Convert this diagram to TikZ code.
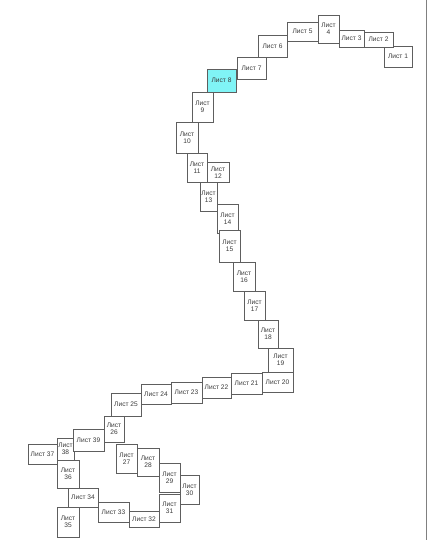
\documentclass[tikz,border=0pt]{standalone}
\usepackage{fontspec}
\setmainfont{Liberation Sans}
\definecolor{edge}{HTML}{5E5E5E}
\definecolor{txt}{HTML}{3A3A3A}
\definecolor{sel}{HTML}{80F4F6}
\tikzset{
  sheet/.style={draw=edge, line width=0.85pt, fill=white, inner sep=0pt, align=center,
    text=txt, font=\fontsize{6.6}{7.2}\selectfont},
  wide/.style={sheet},
  tall/.style={sheet},
}
\begin{document}
\begin{tikzpicture}[x=1pt,y=-1pt]
\useasboundingbox (0,0) rectangle (430,540);
\fill[white] (0,0) rectangle (430,540);
\draw[gray, line width=1.5pt] (426.5,0) -- (426.5,540);
\node[wide, minimum width=28, minimum height=21] (s1) at (398,56.5) {Лист 1};
\node[wide, minimum width=29, minimum height=15] (s2) at (378.5,39.5) {Лист 2};
\node[wide, minimum width=25, minimum height=17] (s3) at (351.5,38.5) {Лист 3};
\node[tall, minimum width=21, minimum height=28] (s4) at (328.5,29) {Лист\\4};
\node[wide, minimum width=31, minimum height=19] (s5) at (302.5,31.5) {Лист 5};
\node[wide, minimum width=29, minimum height=22] (s6) at (272.5,46) {Лист 6};
\node[wide, minimum width=29, minimum height=22] (s7) at (251.5,68) {Лист 7};
\node[wide, fill=sel, minimum width=29, minimum height=23] (s8) at (221.5,80.5) {Лист 8};
\node[tall, minimum width=21, minimum height=30] (s9) at (202.5,107) {Лист\\9};
\node[tall, minimum width=22, minimum height=31] (s10) at (187,137.5) {Лист\\10};
\node[tall, minimum width=20, minimum height=29] (s11) at (197,167.5) {Лист\\11};
\node[tall, minimum width=22, minimum height=20] (s12) at (218,172.5) {Лист\\12};
\node[tall, minimum width=17, minimum height=29] (s13) at (208.5,196.5) {Лист\\13};
\node[tall, minimum width=21, minimum height=29] (s14) at (227.5,218.5) {Лист\\14};
\node[tall, minimum width=21, minimum height=32] (s15) at (229.5,246) {Лист\\15};
\node[tall, minimum width=22, minimum height=29] (s16) at (244,276.5) {Лист\\16};
\node[tall, minimum width=21, minimum height=29] (s17) at (254.5,305.5) {Лист\\17};
\node[tall, minimum width=20, minimum height=28] (s18) at (268,334) {Лист\\18};
\node[tall, minimum width=25, minimum height=24] (s19) at (280.5,360) {Лист\\19};
\node[wide, minimum width=31, minimum height=20] (s20) at (277.5,382) {Лист 20};
\node[wide, minimum width=31, minimum height=21] (s21) at (246.5,383.5) {Лист 21};
\node[wide, minimum width=29, minimum height=21] (s22) at (216.5,387.5) {Лист 22};
\node[wide, minimum width=31, minimum height=21] (s23) at (186.5,392.5) {Лист 23};
\node[wide, minimum width=30, minimum height=20] (s24) at (156,394) {Лист 24};
\node[wide, minimum width=30, minimum height=23] (s25) at (126,404.5) {Лист 25};
\node[tall, minimum width=20, minimum height=26] (s26) at (114,429) {Лист\\26};
\node[tall, minimum width=21, minimum height=29] (s27) at (126.5,458.5) {Лист\\27};
\node[tall, minimum width=22, minimum height=28] (s28) at (148,462) {Лист\\28};
\node[tall, minimum width=21, minimum height=29] (s29) at (169.5,477.5) {Лист\\29};
\node[tall, minimum width=19, minimum height=29] (s30) at (189.5,489.5) {Лист\\30};
\node[tall, minimum width=21, minimum height=28] (s31) at (169.5,508) {Лист\\31};
\node[wide, minimum width=30, minimum height=16] (s32) at (144,519) {Лист 32};
\node[wide, minimum width=31, minimum height=20] (s33) at (113.5,512) {Лист 33};
\node[wide, minimum width=30, minimum height=19] (s34) at (83,497.5) {Лист 34};
\node[tall, minimum width=22, minimum height=30] (s35) at (68,522) {Лист\\35};
\node[tall, minimum width=22, minimum height=28] (s36) at (68,474) {Лист\\36};
\node[wide, minimum width=29, minimum height=20] (s37) at (42.5,454) {Лист 37};
\node[tall, minimum width=17, minimum height=22] (s38) at (65.5,449) {Лист\\38};
\node[wide, minimum width=31, minimum height=22] (s39) at (88.5,440) {Лист 39};
\end{tikzpicture}
\end{document}
